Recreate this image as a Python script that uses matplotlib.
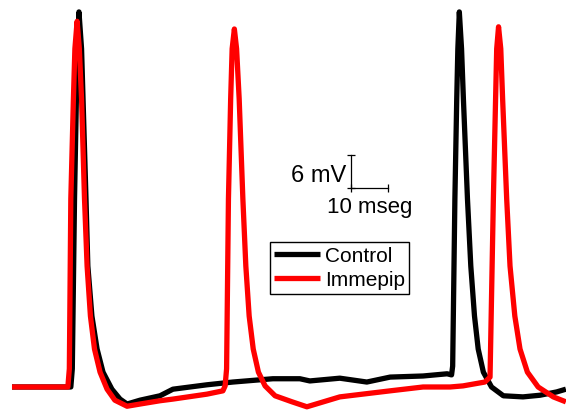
import matplotlib
matplotlib.use("Agg")
import matplotlib.pyplot as plt

plt.rcParams['font.family'] = ['Liberation Sans', 'DejaVu Sans']

# Control trace (time in ms, voltage in mV)
control_t = [0.0, 15.9, 16.3, 16.9, 17.4, 17.7, 18.1, 18.8, 19.2, 20.0, 20.5, 21.6,
             23.0, 24.6, 27.0, 29.2, 31.1, 34.6, 40.0, 43.5, 52.7, 59.7, 70.5, 77.8,
             80.5, 88.6, 95.9, 102.2, 111.1, 117.6, 118.8, 119.1, 119.7, 120.2, 120.5,
             120.9, 121.5, 122.0, 123.1, 124.0, 125.0, 126.0, 127.4, 129.6, 132.8,
             138.1, 142.7, 147.2, 149.7]
control_v = [-60.0, -60.0, -56.7, -25.8, -7.6, 1.5, 8.2, 1.5, -7.6, -25.8, -38.0, -47.1,
             -53.1, -57.3, -60.4, -62.2, -63.1, -62.4, -61.6, -60.4, -59.6, -59.1, -58.5, -58.5,
             -58.9, -58.4, -59.1, -58.2, -58.0, -57.6, -57.8, -56.2, -25.8, -7.6, 1.5,
             8.2, 1.5, -7.6, -25.8, -38.0, -47.1, -53.1, -57.3, -60.0, -61.6,
             -61.8, -61.5, -60.9, -60.4]

# Immepip trace
immepip_t = [0.0, 15.1, 15.5, 15.9, 16.6, 17.0, 17.6, 18.2, 18.8, 19.6, 20.3, 21.2,
             22.3, 23.8, 25.7, 27.8, 31.1, 34.6, 40.0, 43.5, 52.7, 57.0, 57.6, 58.0,
             58.5, 59.1, 59.5, 60.1, 60.7, 61.4, 62.4, 63.2, 64.1, 65.2, 66.6, 68.4,
             71.1, 75.7, 79.7, 88.6, 102.2, 111.1, 118.4, 121.9, 127.8, 129.2, 130.1,
             130.7, 131.0, 131.5, 132.1, 132.6, 133.7, 134.6, 135.9, 137.3, 139.3,
             142.2, 146.3, 149.7]
immepip_v = [-60.0, -60.0, -56.7, -25.8, -7.6, 1.5, 6.5, 1.5, -7.6, -25.8, -38.0, -47.1,
             -53.1, -57.3, -60.4, -62.4, -63.5, -63.1, -62.5, -62.2, -61.3, -60.7, -59.8, -56.7,
             -25.8, -7.6, 1.5, 5.1, 1.5, -7.6, -25.8, -38.0, -47.1, -53.1, -57.3, -59.8,
             -61.6, -62.7, -63.6, -61.8, -60.7, -60.0, -60.0, -59.8, -59.1, -58.2, -25.8,
             -7.6, 1.5, 5.5, 1.5, -7.6, -25.8, -38.0, -47.1, -53.1, -57.3,
             -60.0, -61.8, -62.7]

series_labels = ["Control", "Immepip"]
series_colors = ["#000000", "#ff0000"]

scale_t0 = 91.6      # ms
scale_v0 = -23.8     # mV
scale_dt = 10        # ms
scale_dv = 6         # mV
scale_labels = ["6 mV", "10 mseg"]

fig = plt.figure(figsize=(5.66, 4.14), dpi=100)
ax = fig.add_axes([0, 0, 1, 1])
ax.set_xlim(-3.24, 149.73)
ax.set_ylim(-64.73, 10.55)
ax.axis('off')

ax.plot(control_t, control_v, color=series_colors[0], lw=3.8, label=series_labels[0],
        solid_joinstyle='round', solid_capstyle='butt', zorder=2)
ax.plot(immepip_t, immepip_v, color=series_colors[1], lw=3.8, label=series_labels[1],
        solid_joinstyle='round', solid_capstyle='butt', zorder=3)

# scale bar
ax.plot([scale_t0, scale_t0], [scale_v0, scale_v0 + scale_dv], color='black', lw=0.9,
        marker='_', markersize=6, markeredgewidth=0.9)
ax.plot([scale_t0, scale_t0 + scale_dt], [scale_v0, scale_v0], color='black', lw=0.9,
        marker='|', markersize=6, markeredgewidth=0.9)
ax.text(scale_t0 - 1.2, -22.5, scale_labels[0], ha='right', va='baseline', fontsize=17)
ax.text(85.1, -28.2, scale_labels[1], ha='left', va='baseline', fontsize=16)

leg = ax.legend(loc='upper left', bbox_to_anchor=(270 / 566, 1 - 243 / 414),
                bbox_transform=fig.transFigure, borderaxespad=0, fontsize=15,
                handlelength=2.2, handletextpad=0.25, borderpad=0.2, labelspacing=0.25,
                fancybox=False, frameon=True, edgecolor='black', framealpha=1)
leg.get_frame().set_linewidth(1.0)

fig.savefig("out.png", dpi=100)
